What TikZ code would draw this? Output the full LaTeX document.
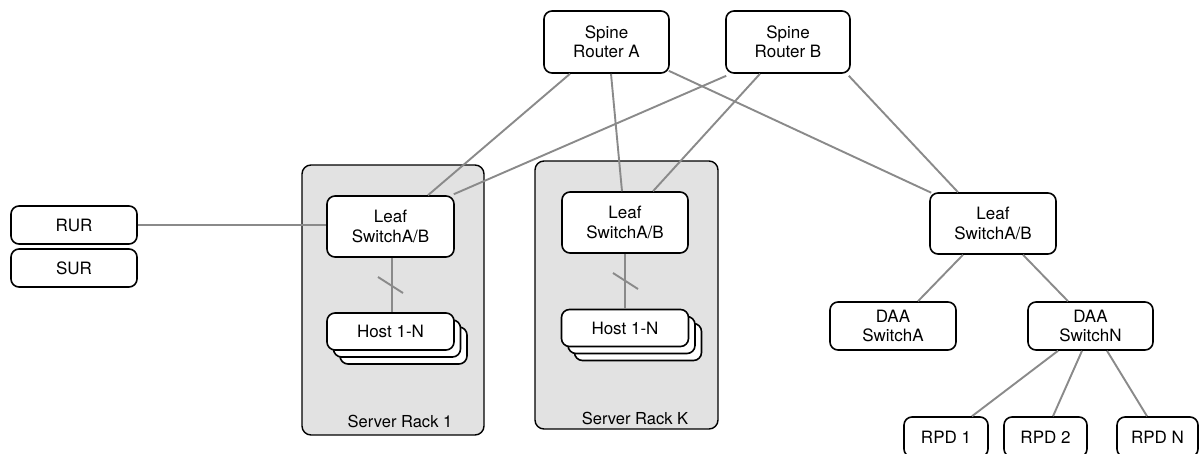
\documentclass[tikz,border=0pt]{standalone}
\usepackage{fontspec}
\setmainfont{TeX Gyre Heros}
\definecolor{linkgray}{RGB}{138,138,138}
\definecolor{rackgray}{RGB}{226,226,226}
\begin{document}
\begin{tikzpicture}[x=1pt,y=-1pt,
  box/.style={draw=black,line width=1.6pt,rounded corners=8pt,fill=white,inner sep=0pt,align=center,
    font=\fontsize{17}{19.5}\selectfont},
  rack/.style={draw=black,line width=1.4pt,rounded corners=9pt,fill=rackgray,inner sep=0pt},
  link/.style={draw=linkgray,line width=1.9pt},
  lbl/.style={font=\fontsize{16.5}{19}\selectfont,inner sep=0pt}]
\useasboundingbox (0,0) rectangle (1199,453);
\clip (0,0) rectangle (1199,453);
% racks
\node[rack,minimum width=182pt,minimum height=270pt] (rack1) at (393,300) {};
\node[rack,minimum width=183pt,minimum height=268pt] (rackK) at (626.5,295) {};
\node[lbl] (rack1l) at (400,421.5) {Server Rack 1};
\node[lbl] (rackKl) at (635,418) {Server Rack K};
% spine
\node[box,minimum width=125pt,minimum height=62pt] (spA) at (606.5,42) {Spine\\Router A};
\node[box,minimum width=124pt,minimum height=62pt] (spB) at (788,42) {Spine\\Router B};
% leaves
\node[box,minimum width=127pt,minimum height=61pt] (leaf1) at (390.5,226.5) {Leaf\\SwitchA/B};
\node[box,minimum width=126pt,minimum height=61pt] (leafK) at (625,222.5) {Leaf\\SwitchA/B};
\node[box,minimum width=126pt,minimum height=61pt] (leafR) at (993,223.5) {Leaf\\SwitchA/B};
% RUR SUR
\node[box,minimum width=126pt,minimum height=38pt] (rur) at (74,225) {RUR};
\node[box,minimum width=126pt,minimum height=38pt] (sur) at (74,268) {SUR};
% hosts (stacked)
\foreach \cx/\cy/\nm in {390.5/331.5/host1, 625/328/hostK}{
  \node[box,minimum width=127pt,minimum height=37pt] (\nm c) at (\cx+13,\cy+14) {};
  \node[box,minimum width=127pt,minimum height=37pt] (\nm b) at (\cx+6.5,\cy+7) {};
  \node[box,minimum width=127pt,minimum height=37pt] (\nm) at (\cx,\cy) {Host 1-N};
}
% DAA
\node[box,minimum width=126pt,minimum height=48pt] (daaA) at (893,326) {DAA\\SwitchA};
\node[box,minimum width=125pt,minimum height=48pt] (daaN) at (1090.5,326) {DAA\\SwitchN};
% RPD
\node[box,minimum width=84pt,minimum height=40pt] (rpd1) at (946,437) {RPD 1};
\node[box,minimum width=83pt,minimum height=40pt] (rpd2) at (1045.5,437) {RPD 2};
\node[box,minimum width=81pt,minimum height=40pt] (rpdN) at (1157.5,437) {RPD N};
% links
\draw[link] ([xshift=-36.5pt]spA.south) -- ([xshift=37.5pt]leaf1.north);
\draw[link] ([xshift=4.5pt]spA.south) -- ([xshift=-3pt]leafK.north);
\draw[link] ([xshift=-1pt,yshift=3pt]spA.south east) -- ([xshift=2pt,yshift=-0.5pt]leafR.north west);
\draw[link] ([xshift=1pt,yshift=-2pt]spB.south west) -- ([xshift=-1pt,yshift=1pt]leaf1.north east);
\draw[link] ([xshift=-28pt]spB.south) -- ([xshift=28pt]leafK.north);
\draw[link] ([xshift=-2pt,yshift=-2pt]spB.south east) -- ([xshift=-35pt]leafR.north);
\draw[link] (rur.east) -- (rur.east -| leaf1.west);
\draw[link] ([xshift=1.5pt]leaf1.south) coordinate (h1a) -- (host1.north -| h1a);
\draw[link] (leafK.south) -- (hostK.north);
\draw[link] (378,277) -- (403,293);
\draw[link] (613,273) -- (638,289);
\draw[link] ([xshift=-30pt]leafR.south) -- ([xshift=25pt]daaA.north);
\draw[link] ([xshift=30pt]leafR.south) -- ([xshift=-22.5pt]daaN.north);
\draw[link] ([xshift=-32.5pt]daaN.south) -- ([xshift=26pt]rpd1.north);
\draw[link] ([xshift=-8.5pt]daaN.south) -- ([xshift=7.5pt]rpd2.north);
\draw[link] ([xshift=16.5pt]daaN.south) -- ([xshift=-10.5pt]rpdN.north);
\end{tikzpicture}
\end{document}
